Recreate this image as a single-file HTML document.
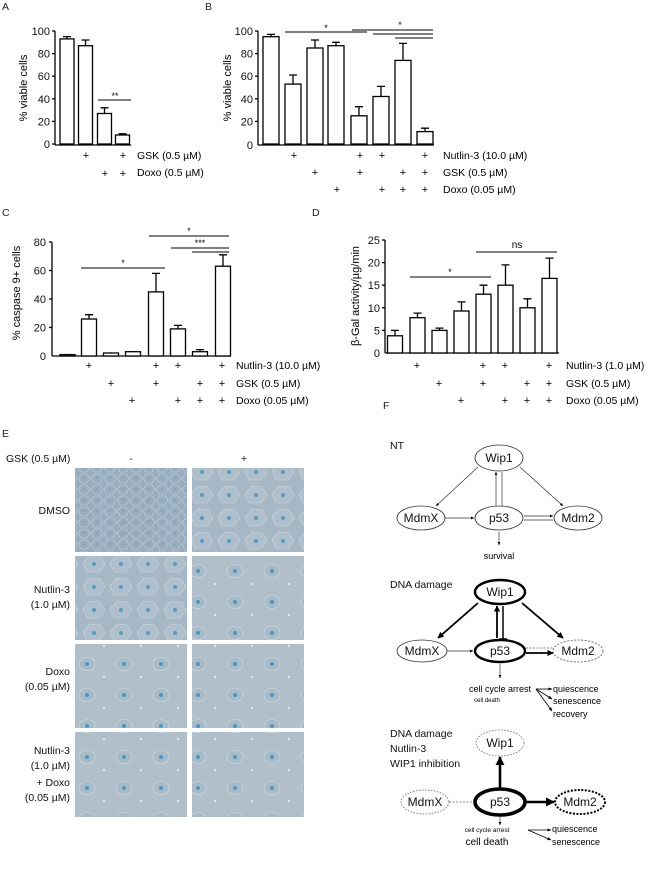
<!DOCTYPE html>
<html><head><meta charset="utf-8"><style>
html,body{margin:0;padding:0;background:#fff}
svg{display:block;font-family:"Liberation Sans",sans-serif}
</style></head><body>
<svg width="650" height="872" viewBox="0 0 650 872" xmlns="http://www.w3.org/2000/svg">
<defs>
<marker id="ah" viewBox="0 0 10 10" refX="9" refY="5" markerWidth="5" markerHeight="5" orient="auto"><path d="M0,1 L10,5 L0,9z" fill="#000"/></marker>
<marker id="ahb" viewBox="0 0 10 10" refX="9" refY="5" markerWidth="3.5" markerHeight="3.5" orient="auto"><path d="M0,0 L10,5 L0,10z" fill="#000"/></marker>
<pattern id="dense" width="13" height="11" patternUnits="userSpaceOnUse">
<rect width="13" height="11" fill="#98adbe"/>
<path d="M0,5 L4,1 L9,1 L12,5 L9,10 L3,10z" fill="none" stroke="#c6d3dd" stroke-width="0.6"/>
<circle cx="6" cy="5" r="0.9" fill="#6d9dbd"/>
</pattern>
<pattern id="mixed" width="27" height="23" patternUnits="userSpaceOnUse">
<rect width="27" height="23" fill="#a6b7c5"/>
<path d="M2,11 L9,3 L19,4 L24,12 L18,20 L6,20z" fill="#afbfcc" stroke="#cdd8e0" stroke-width="0.6"/>
<circle cx="13" cy="12" r="2" fill="#5a98c2"/>
</pattern>
<pattern id="sparse" width="37" height="31" patternUnits="userSpaceOnUse">
<rect width="37" height="31" fill="#b1bfca"/>
<ellipse cx="13" cy="13" rx="8" ry="6.5" fill="#aabbc8" stroke="#d2dce3" stroke-width="0.6"/>
<circle cx="13" cy="13" r="2" fill="#4f95c2"/>
<circle cx="30" cy="26" r="1" fill="#eef2f5"/>
</pattern>
</defs>

<g font-size="10.5" fill="#222">
<text x="2" y="10">A</text><text x="205" y="10">B</text>
<text x="2" y="216">C</text><text x="312" y="216">D</text>
<text x="2" y="437">E</text><text x="383" y="409">F</text>
</g>

<!-- Panel A -->
<g stroke="#000" stroke-width="1.3" fill="#fff">
<line x1="55" y1="31" x2="55" y2="145"/><line x1="55" y1="145" x2="131" y2="145"/>
<line x1="52" y1="31" x2="55" y2="31"/><line x1="52" y1="53.6" x2="55" y2="53.6"/><line x1="52" y1="76.2" x2="55" y2="76.2"/><line x1="52" y1="98.8" x2="55" y2="98.8"/><line x1="52" y1="121.4" x2="55" y2="121.4"/><line x1="52" y1="144" x2="55" y2="144"/>
<path d="M67,38.9V36.6M63,36.6H71M85.5,45.7V40M81.5,40H89.5M104.5,113.5V107.8M100.5,107.8H108.5M122.5,135V133.8M118.5,133.8H126.5"/>
<rect x="60" y="38.9" width="14" height="105.1"/><rect x="78.5" y="45.7" width="14" height="98.3"/><rect x="97.5" y="113.5" width="14" height="30.5"/><rect x="115.5" y="135" width="14" height="9"/>
<line x1="98" y1="100" x2="131" y2="100" stroke-width="1"/>
</g>
<g font-size="11" fill="#111" text-anchor="end">
<text x="50" y="35">100</text><text x="50" y="57.6">80</text><text x="50" y="80.2">60</text><text x="50" y="102.8">40</text><text x="50" y="125.4">20</text><text x="50" y="148">0</text>
</g>
<text transform="translate(27,88) rotate(-90)" font-size="11" text-anchor="middle">% viable cells</text>
<text x="115" y="99" font-size="9" text-anchor="middle">**</text>
<g font-size="11" text-anchor="middle"><text x="86" y="159">+</text><text x="123" y="159">+</text><text x="105" y="177">+</text><text x="123" y="177">+</text></g>
<g font-size="10.5"><text x="137" y="159">GSK (0.5 µM)</text><text x="137" y="176">Doxo (0.5 µM)</text></g>

<!-- Panel B -->
<g stroke="#000" stroke-width="1.3" fill="#fff">
<line x1="258" y1="31" x2="258" y2="145"/><line x1="258" y1="145" x2="434" y2="145"/>
<line x1="255" y1="31" x2="258" y2="31"/><line x1="255" y1="53.6" x2="258" y2="53.6"/><line x1="255" y1="76.2" x2="258" y2="76.2"/><line x1="255" y1="98.8" x2="258" y2="98.8"/><line x1="255" y1="121.4" x2="258" y2="121.4"/>
<path d="M271,36.7V34.4M267,34.4H275M293,84.1V75M289,75H297M315,48V40M311,40H319M336,45.7V42.3M332,42.3H340M359,115.8V106.7M355,106.7H363M381,96.5V86.4M377,86.4H385M403,60.4V43.4M399,43.4H407M425,131.6V128.2M421,128.2H429"/>
<rect x="263" y="36.7" width="16" height="107.3"/><rect x="285" y="84.1" width="16" height="59.9"/><rect x="307" y="48" width="16" height="96"/><rect x="328" y="45.7" width="16" height="98.3"/><rect x="351" y="115.8" width="16" height="28.2"/><rect x="373" y="96.5" width="16" height="47.5"/><rect x="395" y="60.4" width="16" height="83.6"/><rect x="417" y="131.6" width="16" height="12.4"/>
<g stroke-width="0.9"><line x1="285" y1="32" x2="367" y2="32"/><line x1="352" y1="30" x2="433" y2="30"/><line x1="373" y1="34" x2="433" y2="34"/><line x1="395" y1="38" x2="433" y2="38"/></g>
</g>
<g font-size="11" fill="#111" text-anchor="end">
<text x="253" y="35">100</text><text x="253" y="57.6">80</text><text x="253" y="80.2">60</text><text x="253" y="102.8">40</text><text x="253" y="125.4">20</text><text x="253" y="149">0</text>
</g>
<text transform="translate(231,88) rotate(-90)" font-size="11" text-anchor="middle">% viable cells</text>
<text x="326" y="31" font-size="9" text-anchor="middle">*</text><text x="400" y="28" font-size="9" text-anchor="middle">*</text>
<g font-size="11" text-anchor="middle">
<text x="294" y="159">+</text><text x="360" y="159">+</text><text x="382" y="159">+</text><text x="425" y="159">+</text>
<text x="315" y="176">+</text><text x="360" y="176">+</text><text x="403" y="176">+</text><text x="425" y="176">+</text>
<text x="337" y="193">+</text><text x="382" y="193">+</text><text x="403" y="193">+</text><text x="425" y="193">+</text>
</g>
<g font-size="10.5"><text x="443" y="159">Nutlin-3 (10.0 µM)</text><text x="443" y="176">GSK (0.5 µM)</text><text x="443" y="193">Doxo (0.05 µM)</text></g>

<!-- Panel C -->
<g stroke="#000" stroke-width="1.3" fill="#fff">
<line x1="52" y1="242" x2="52" y2="356"/><line x1="52" y1="356" x2="230" y2="356"/>
<line x1="49" y1="242" x2="52" y2="242"/><line x1="49" y1="270.5" x2="52" y2="270.5"/><line x1="49" y1="299" x2="52" y2="299"/><line x1="49" y1="327.5" x2="52" y2="327.5"/>
<path d="M89,319V314.7M85,314.7H93M156,291.9V273.4M152,273.4H160M178,328.9V325.4M174,325.4H182M200,351.7V349.6M196,349.6H204M223,266.2V254.8M219,254.8H227M67,354.6V353.9M111,353V352.4M133,351.7V351"/>
<rect x="60" y="354.6" width="15" height="1.4"/><rect x="81.5" y="319" width="15" height="37"/><rect x="103.5" y="353" width="15" height="3"/><rect x="125.5" y="351.7" width="15" height="4.3"/><rect x="148.5" y="291.9" width="15" height="64.1"/><rect x="170.5" y="328.9" width="15" height="27.1"/><rect x="192.5" y="351.7" width="15" height="4.3"/><rect x="215.5" y="266.2" width="15" height="89.8"/>
<g stroke-width="0.9"><line x1="81" y1="268" x2="165" y2="268"/><line x1="149" y1="236" x2="229" y2="236"/><line x1="171" y1="248" x2="229" y2="248"/><line x1="192" y1="252" x2="229" y2="252"/></g>
</g>
<g font-size="11" fill="#111" text-anchor="end">
<text x="46" y="246">80</text><text x="46" y="274.5">60</text><text x="46" y="303">40</text><text x="46" y="331.5">20</text><text x="46" y="360">0</text>
</g>
<text transform="translate(20,293) rotate(-90)" font-size="11" text-anchor="middle">% caspase 9+ cells</text>
<text x="123" y="266" font-size="9" text-anchor="middle">*</text><text x="189" y="234" font-size="9" text-anchor="middle">*</text><text x="200" y="246" font-size="9" text-anchor="middle">***</text>
<g font-size="11" text-anchor="middle">
<text x="89" y="369">+</text><text x="156" y="369">+</text><text x="178" y="369">+</text><text x="222" y="369">+</text>
<text x="111" y="387">+</text><text x="156" y="387">+</text><text x="200" y="387">+</text><text x="222" y="387">+</text>
<text x="132" y="404">+</text><text x="178" y="404">+</text><text x="200" y="404">+</text><text x="222" y="404">+</text>
</g>
<g font-size="10.5"><text x="236" y="369">Nutlin-3 (10.0 µM)</text><text x="236" y="387">GSK (0.5 µM)</text><text x="236" y="404">Doxo (0.05 µM)</text></g>

<!-- Panel D -->
<g stroke="#000" stroke-width="1.3" fill="#fff">
<line x1="385" y1="240" x2="385" y2="353"/><line x1="385" y1="353" x2="559" y2="353"/>
<line x1="382" y1="240" x2="385" y2="240"/><line x1="382" y1="262.6" x2="385" y2="262.6"/><line x1="382" y1="285.2" x2="385" y2="285.2"/><line x1="382" y1="307.8" x2="385" y2="307.8"/><line x1="382" y1="330.4" x2="385" y2="330.4"/>
<path d="M395,335.8V330.4M391,330.4H399M417.5,317.7V313.1M413.5,313.1H421.5M439.5,330.4V328.1M435.5,328.1H443.5M461.5,311V301.9M457.5,301.9H465.5M483.5,294.2V285.2M479.5,285.2H487.5M505.5,285.2V264.9M501.5,264.9H509.5M527.5,307.8V298.8M523.5,298.8H531.5M549.5,278.4V258.1M545.5,258.1H553.5"/>
<rect x="387.5" y="335.8" width="15" height="17.2"/><rect x="410" y="317.7" width="15" height="35.3"/><rect x="432" y="330.4" width="15" height="22.6"/><rect x="454" y="311" width="15" height="42"/><rect x="476" y="294.2" width="15" height="58.8"/><rect x="498" y="285.2" width="15" height="67.8"/><rect x="520" y="307.8" width="15" height="45.2"/><rect x="542" y="278.4" width="15" height="74.6"/>
<g stroke-width="0.9"><line x1="410" y1="277" x2="491" y2="277"/><line x1="476" y1="252" x2="557" y2="252"/></g>
</g>
<g font-size="11" fill="#111" text-anchor="end">
<text x="380" y="244">25</text><text x="380" y="266.6">20</text><text x="380" y="289.2">15</text><text x="380" y="311.8">10</text><text x="380" y="334.4">5</text><text x="380" y="357">0</text>
</g>
<text transform="translate(359,296) rotate(-90)" font-size="11" text-anchor="middle">β-Gal activity/µg/min</text>
<text x="450" y="275" font-size="9" text-anchor="middle">*</text><text x="517" y="248" font-size="10" text-anchor="middle">ns</text>
<g font-size="11" text-anchor="middle">
<text x="417" y="369">+</text><text x="483" y="369">+</text><text x="505" y="369">+</text><text x="549" y="369">+</text>
<text x="439" y="387">+</text><text x="483" y="387">+</text><text x="527" y="387">+</text><text x="549" y="387">+</text>
<text x="461" y="404">+</text><text x="505" y="404">+</text><text x="527" y="404">+</text><text x="549" y="404">+</text>
</g>
<g font-size="10.5"><text x="566" y="369">Nutlin-3 (1.0 µM)</text><text x="566" y="387">GSK (0.5 µM)</text><text x="566" y="404">Doxo (0.05 µM)</text></g>

<!-- Panel E -->
<g font-size="10.5" fill="#111">
<text x="6" y="462">GSK (0.5 µM)</text><text x="131" y="462" text-anchor="middle">-</text><text x="244" y="462" text-anchor="middle">+</text>
<g text-anchor="end">
<text x="70" y="514">DMSO</text>
<text x="70" y="593">Nutlin-3</text><text x="70" y="608">(1.0 µM)</text>
<text x="70" y="675">Doxo</text><text x="70" y="690">(0.05 µM)</text>
<text x="70" y="754">Nutlin-3</text><text x="70" y="769">(1.0 µM)</text><text x="70" y="786">+ Doxo</text><text x="70" y="801">(0.05 µM)</text>
</g></g>
<rect x="75" y="468" width="112" height="84" fill="url(#dense)"/>
<rect x="192" y="468" width="112" height="84" fill="url(#mixed)"/>
<rect x="75" y="556" width="112" height="84" fill="url(#mixed)"/>
<rect x="192" y="556" width="112" height="84" fill="url(#sparse)"/>
<rect x="75" y="644" width="112" height="84" fill="url(#sparse)"/>
<rect x="192" y="644" width="112" height="84" fill="url(#sparse)"/>
<rect x="75" y="732" width="112" height="85" fill="url(#sparse)"/>
<rect x="192" y="732" width="112" height="85" fill="url(#sparse)"/>

<!-- Panel F -->
<g font-size="10.5" fill="#111">
<text x="390" y="449">NT</text>
<text x="390" y="588">DNA damage</text>
<text x="390" y="737">DNA damage</text><text x="390" y="752">Nutlin-3</text><text x="390" y="767">WIP1 inhibition</text>
</g>
<g fill="#fff" stroke="#333" stroke-width="0.8">
<ellipse cx="499" cy="458" rx="24" ry="13"/><ellipse cx="421" cy="518" rx="24" ry="12"/><ellipse cx="499" cy="518" rx="24" ry="12"/><ellipse cx="578" cy="518" rx="24" ry="12"/>
</g>
<g stroke="#333" stroke-width="0.7" fill="none" marker-end="url(#ah)">
<line x1="478" y1="467" x2="436" y2="506"/><line x1="520" y1="467" x2="563" y2="506"/>
<line x1="445" y1="518" x2="474" y2="518"/>
<line x1="496" y1="506" x2="496" y2="472"/>
<line x1="524" y1="516" x2="553" y2="516"/>
<line x1="499" y1="532" x2="499" y2="545"/>
</g>
<g stroke="#333" stroke-width="0.7"><line x1="502" y1="472" x2="502" y2="506"/><line x1="524" y1="520" x2="553" y2="520"/></g>
<g font-size="12" text-anchor="middle" fill="#111"><text x="499" y="462">Wip1</text><text x="421" y="522">MdmX</text><text x="499" y="522">p53</text><text x="578" y="522">Mdm2</text></g>
<text x="499" y="559" font-size="9" text-anchor="middle">survival</text>

<ellipse cx="500" cy="592" rx="25" ry="12" fill="#fff" stroke="#000" stroke-width="2.4"/>
<ellipse cx="422" cy="651" rx="25" ry="11" fill="#fff" stroke="#333" stroke-width="0.8"/>
<ellipse cx="500" cy="651" rx="25" ry="11" fill="#fff" stroke="#000" stroke-width="2.4"/>
<ellipse cx="578" cy="651" rx="25" ry="11" fill="#fff" stroke="#555" stroke-width="0.8" stroke-dasharray="2,1.5"/>
<g stroke="#000" stroke-width="1.8" fill="none" marker-end="url(#ahb)">
<line x1="478" y1="603" x2="438" y2="638"/><line x1="522" y1="603" x2="563" y2="638"/>
<line x1="497" y1="638" x2="497" y2="606"/>
<line x1="526" y1="653" x2="553" y2="653"/>
</g>
<g stroke="#000" stroke-width="1.5"><line x1="503" y1="606" x2="503" y2="639"/><line x1="499" y1="639" x2="507" y2="639"/></g>
<line x1="447" y1="651" x2="473" y2="651" stroke="#333" stroke-width="0.7" marker-end="url(#ah)"/>
<line x1="526" y1="648" x2="553" y2="648" stroke="#555" stroke-width="0.7" stroke-dasharray="2,1.5"/>
<line x1="500" y1="664" x2="500" y2="678" stroke="#333" stroke-width="0.7" marker-end="url(#ah)"/>
<g font-size="12" text-anchor="middle" fill="#111"><text x="500" y="596">Wip1</text><text x="422" y="655">MdmX</text><text x="500" y="655">p53</text><text x="578" y="655">Mdm2</text></g>
<text x="469" y="692" font-size="9">cell cycle arrest</text>
<text x="487" y="702" font-size="6" text-anchor="middle">cell death</text>
<g stroke="#000" stroke-width="0.8" fill="none" marker-end="url(#ah)">
<line x1="536" y1="689" x2="552" y2="689"/><line x1="536" y1="689" x2="552" y2="699"/><line x1="536" y1="689" x2="552" y2="711"/>
</g>
<g font-size="9"><text x="553" y="692">quiescence</text><text x="553" y="704">senescence</text><text x="553" y="717">recovery</text></g>

<ellipse cx="500" cy="743" rx="24" ry="13" fill="#fff" stroke="#666" stroke-width="0.8" stroke-dasharray="1.5,1.5"/>
<ellipse cx="425" cy="802" rx="24" ry="12" fill="#fff" stroke="#666" stroke-width="0.8" stroke-dasharray="1.5,1.5"/>
<ellipse cx="500" cy="802" rx="25" ry="13" fill="#fff" stroke="#000" stroke-width="3.6"/>
<ellipse cx="580" cy="802" rx="25" ry="12" fill="#fff" stroke="#000" stroke-width="2" stroke-dasharray="2,1.5"/>
<line x1="449" y1="802" x2="474" y2="802" stroke="#666" stroke-width="0.8" stroke-dasharray="2,1.5"/>
<g stroke="#000" stroke-width="2.6" fill="none" marker-end="url(#ahb)">
<line x1="500" y1="788" x2="500" y2="757"/><line x1="526" y1="802" x2="554" y2="802"/>
</g>
<line x1="500" y1="816" x2="500" y2="825" stroke="#333" stroke-width="0.7" marker-end="url(#ah)"/>
<g font-size="12" text-anchor="middle" fill="#111"><text x="500" y="747">Wip1</text><text x="425" y="806">MdmX</text><text x="500" y="806">p53</text><text x="580" y="806">Mdm2</text></g>
<text x="487" y="832" font-size="6.5" text-anchor="middle">cell cycle arrest</text>
<text x="487" y="845" font-size="10" text-anchor="middle">cell death</text>
<g stroke="#000" stroke-width="0.8" fill="none" marker-end="url(#ah)">
<line x1="528" y1="830" x2="551" y2="830"/><line x1="528" y1="830" x2="551" y2="840"/>
</g>
<g font-size="9"><text x="552" y="832">quiescence</text><text x="552" y="845">senescence</text></g>
</svg>
</body></html>
